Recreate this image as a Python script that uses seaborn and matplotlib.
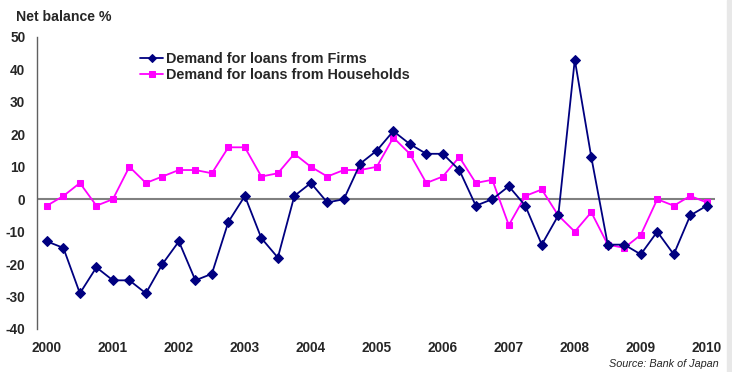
import matplotlib
matplotlib.use("Agg")
import matplotlib.pyplot as plt
import seaborn as sns
import pandas as pd
import numpy as np

quarters = [f"{y}Q{q}" for y in range(2000, 2011) for q in range(1, 5)][:41]
firms = [-13, -15, -29, -21, -25, -25, -29, -20, -13, -25, -23, -7, 1, -12, -18, 1,
         5, -1, 0, 11, 15, 21, 17, 14, 14, 9, -2, 0, 4, -2, -14, -5, 43, 13, -14,
         -14, -17, -10, -17, -5, -2]
households = [-2, 1, 5, -2, 0, 10, 5, 7, 9, 9, 8, 16, 16, 7, 8, 14, 10, 7, 9, 9, 10,
              19, 14, 5, 7, 13, 5, 6, -8, 1, 3, -5, -10, -4, -14, -15, -11, 0, -2, 1, -1]
year_labels = ["2000", "2001", "2002", "2003", "2004", "2005", "2006", "2007",
               "2008", "2009", "2010"]
y_ticks = [-40, -30, -20, -10, 0, 10, 20, 30, 40, 50]

df = pd.DataFrame({"q": np.arange(len(quarters)), "firms": firms, "households": households})

sns.set_style("white")
plt.rcParams["font.family"] = ["Liberation Sans", "DejaVu Sans"]

fig = plt.figure(figsize=(7.32, 3.72), dpi=100)
fig.patch.set_facecolor("white")
ax = fig.add_axes([37/732, 1-329/372, (715-37)/732, (329-37)/372])
ax.set_facecolor("white")

ax.axhline(0, color="#808080", lw=1.5, zorder=1)

sns.lineplot(data=df, x="q", y="firms", ax=ax, color="#000080", lw=1.3,
             marker="D", markersize=5.5, markeredgecolor="#000080",
             label="Demand for loans from Firms", zorder=3)
sns.lineplot(data=df, x="q", y="households", ax=ax, color="#FF00FF", lw=1.3,
             marker="s", markersize=5, markeredgecolor="#FF00FF",
             label="Demand for loans from Households", zorder=2)

ax.set_xlim(-0.6, 40.5)
ax.set_ylim(-40, 50)
ax.set_yticks(y_ticks)
ax.set_yticklabels([str(v) for v in y_ticks], fontsize=9.8, fontweight="bold")
ax.set_xticks(np.arange(0, len(quarters), 4))
ax.set_xticklabels(year_labels, fontsize=9.8, fontweight="bold")
ax.tick_params(axis="y", length=0, pad=8.5)
ax.tick_params(axis="x", length=0, pad=9)
ax.set_xlabel("")
ax.set_ylabel("")
for s in ["top", "right", "bottom"]:
    ax.spines[s].set_visible(False)
ax.spines["left"].set_color("#606060")
ax.spines["left"].set_linewidth(1.0)

leg = ax.legend(loc="upper left", bbox_to_anchor=(140/732, 1-52/372),
                bbox_transform=fig.transFigure, frameon=False, borderaxespad=0,
                borderpad=0, prop={"weight": "bold", "size": 10.4},
                handlelength=1.6, handletextpad=0.2, labelspacing=0.12,
                markerscale=0.8)

fig.text(16/732, 1-17/372, "Net balance %", fontsize=10.2, fontweight="bold",
         va="center", ha="left")
fig.text(719/732, 1-364/372, "Source: Bank of Japan", fontsize=7.8, style="italic",
         va="center", ha="right")

fig.patches.append(matplotlib.patches.Rectangle((727/732, 0), 5/732, 1,
                   transform=fig.transFigure, color="#e8e8e8", zorder=0))

fig.savefig("out.png", dpi=100)
